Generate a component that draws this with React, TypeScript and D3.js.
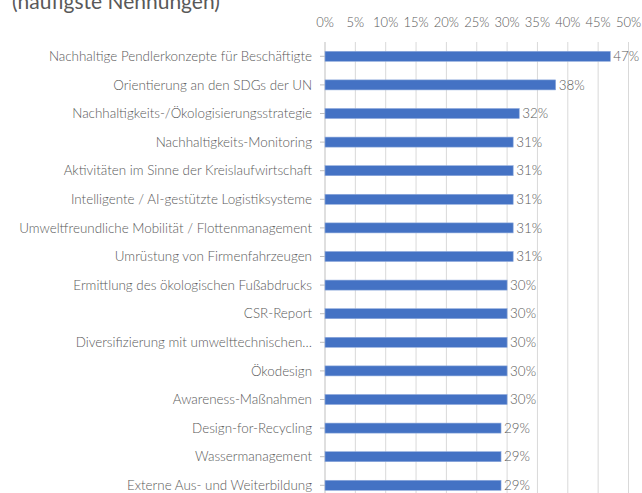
import React, { useRef, useEffect } from "react";
import * as d3 from "d3";

const categories = [
  "Nachhaltige Pendlerkonzepte für Beschäftigte",
  "Orientierung an den SDGs der UN",
  "Nachhaltigkeits-/Ökologisierungsstrategie",
  "Nachhaltigkeits-Monitoring",
  "Aktivitäten im Sinne der Kreislaufwirtschaft",
  "Intelligente / AI-gestützte Logistiksysteme",
  "Umweltfreundliche Mobilität / Flottenmanagement",
  "Umrüstung von Firmenfahrzeugen",
  "Ermittlung des ökologischen Fußabdrucks",
  "CSR-Report",
  "Diversifizierung mit umwelttechnischen…",
  "Ökodesign",
  "Awareness-Maßnahmen",
  "Design-for-Recycling",
  "Wassermanagement",
  "Externe Aus- und Weiterbildung",
];
const values = [47, 38, 32, 31, 31, 31, 31, 31, 30, 30, 30, 30, 30, 29, 29, 29];
const ticks = [0, 5, 10, 15, 20, 25, 30, 35, 40, 45, 50];
const title = "(häufigste Nennungen)";

const W = 642;
const H = 493;

function App() {
  const svgRef = useRef<SVGSVGElement>(null);

  useEffect(() => {
    const svg = d3.select(svgRef.current);
    svg.selectAll("*").remove();

    const x = d3.scaleLinear().domain([0, 50]).range([325, 628.5]);
    const y = d3
      .scaleBand<number>()
      .domain(categories.map((c, i) => i))
      .range([42, 42 + categories.length * 28.6])
      .paddingInner(0.65)
      .paddingOuter(0.325);

    const font = "Lato, 'Open Sans', sans-serif";
    const grey = "#595959";

    svg
      .append("text")
      .attr("x", 12)
      .attr("y", 9)
      .attr("font-family", font)
      .attr("font-size", 21)
      .attr("fill", grey)
      .text(title);

    // vertical gridlines
    svg
      .selectAll(".grid")
      .data(ticks)
      .join("line")
      .attr("class", "grid")
      .attr("x1", (d) => x(d))
      .attr("x2", (d) => x(d))
      .attr("y1", 42)
      .attr("y2", H)
      .attr("stroke", (d) => (d === 0 ? "#bfbfbf" : "#d9d9d9"))
      .attr("stroke-width", 1);

    // tick labels on top
    svg
      .selectAll(".tick-label")
      .data(ticks)
      .join("text")
      .attr("class", "tick-label")
      .attr("x", (d) => x(d))
      .attr("y", 27)
      .attr("text-anchor", "middle")
      .attr("font-family", font)
      .attr("font-weight", 300)
      .attr("font-size", 13)
      .attr("fill", grey)
      .text((d) => `${d}%`);

    // category tick marks
    svg
      .selectAll(".ytick")
      .data(categories)
      .join("line")
      .attr("class", "ytick")
      .attr("x1", 320)
      .attr("x2", 325)
      .attr("y1", (d, i) => y(i)! + y.bandwidth() / 2)
      .attr("y2", (d, i) => y(i)! + y.bandwidth() / 2)
      .attr("stroke", "#bfbfbf");

    // bars
    svg
      .selectAll(".bar")
      .data(values)
      .join("rect")
      .attr("class", "bar")
      .attr("x", x(0))
      .attr("y", (d, i) => y(i)!)
      .attr("width", (d) => x(d) - x(0))
      .attr("height", y.bandwidth())
      .attr("fill", "#4472C4")
      .attr("stroke", "#8faadc")
      .attr("stroke-width", 0.6);

    // category labels
    svg
      .selectAll(".cat")
      .data(categories)
      .join("text")
      .attr("class", "cat")
      .attr("x", 312)
      .attr("y", (d, i) => y(i)! + y.bandwidth() / 2)
      .attr("dy", "0.35em")
      .attr("text-anchor", "end")
      .attr("font-family", font)
      .attr("font-weight", 300)
      .attr("font-size", 13.4)
      .attr("fill", grey)
      .text((d) => d);

    // value labels
    svg
      .selectAll(".val")
      .data(values)
      .join("text")
      .attr("class", "val")
      .attr("x", (d) => x(d) + 3)
      .attr("y", (d, i) => y(i)! + y.bandwidth() / 2)
      .attr("dy", "0.35em")
      .attr("font-family", font)
      .attr("font-weight", 300)
      .attr("font-size", 13.4)
      .attr("fill", grey)
      .text((d) => `${d}%`);
  }, []);

  return (
    <div style={{ position: "fixed", top: 0, left: 0, background: "#fff" }}>
      <svg ref={svgRef} width={W} height={H} style={{ display: "block" }}></svg>
    </div>
  );
}

export default App;
